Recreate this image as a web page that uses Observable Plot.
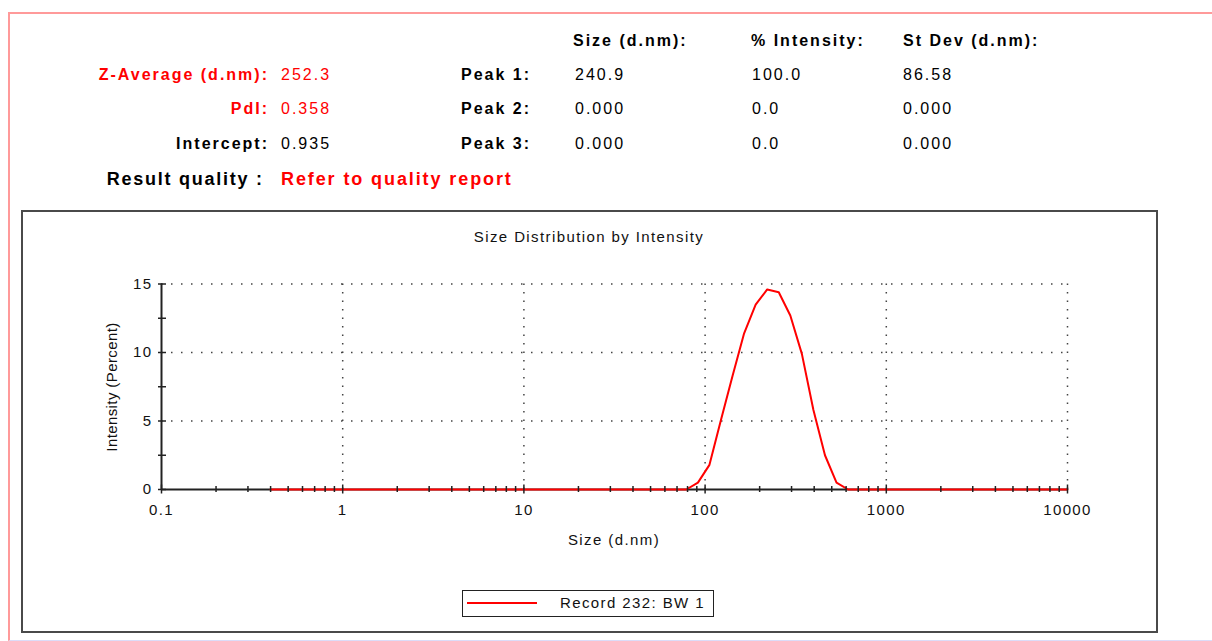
<!DOCTYPE html>
<html>
<head>
<meta charset="utf-8">
<script src="https://cdn.jsdelivr.net/npm/d3@7"></script>
<script src="https://cdn.jsdelivr.net/npm/@observablehq/plot@0.6"></script>
<style>
html, body { margin: 0; padding: 0; background: #fff; }
#page { position: relative; width: 1212px; height: 641px; overflow: hidden; font-family: "Liberation Sans", Arial, sans-serif; }
.frame { position: absolute; left: 8px; top: 12px; width: 1300px; height: 629px; border-left: 2px solid #ff9a9a; border-top: 2px solid #ff9a9a; border-bottom: 1px solid #dcdcf8; box-sizing: border-box; }
.box { position: absolute; left: 21px; top: 210px; width: 1137px; height: 423px; border: 2px solid #4a4a4a; box-sizing: border-box; }
.t { position: absolute; white-space: nowrap; line-height: 20px; height: 20px; }
#chart { position: absolute; left: 22px; top: 211px; }
.legend { position: absolute; left: 462px; top: 590px; width: 252px; height: 27px; border: 1px solid #222; box-sizing: border-box; background: #fff; }
.legend .sw { position: absolute; left: 4px; top: 11px; width: 70px; height: 2px; background: #ff0000; }
</style>
</head>
<body>
<div id="page">
  <div class="frame"></div>
  <div class="box"></div>
  <div id="chart"></div>
</div>
<script>
// ---------- Header data ----------
const summaryLabels = ["Z-Average (d.nm):", "PdI:", "Intercept:"];
const summaryValues = ["252.3", "0.358", "0.935"];
const summaryColors = ["#ff0000", "#ff0000", "#000000"];
const peakLabels = ["Peak 1:", "Peak 2:", "Peak 3:"];
const peakColumns = ["Size (d.nm):", "% Intensity:", "St Dev (d.nm):"];
const peakSize = ["240.9", "0.000", "0.000"];
const peakIntensity = ["100.0", "0.0", "0.0"];
const peakStDev = ["86.58", "0.000", "0.000"];
const qualityLabel = "Result quality :";
const qualityText = "Refer to quality report";

// ---------- Chart data ----------
const chartTitle = "Size Distribution by Intensity";
const xLabel = "Size (d.nm)";
const yLabel = "Intensity (Percent)";
const seriesName = "Record 232: BW 1";
const sizes = [0.4,0.4632,0.5365,0.6213,0.7195,0.8332,0.9649,1.117,1.294,1.499,
  1.736,2.010,2.328,2.696,3.122,3.615,4.187,4.849,5.615,6.503,
  7.531,8.721,10.10,11.70,13.54,15.69,18.17,21.04,24.36,28.21,
  32.67,37.84,43.82,50.75,58.77,68.06,78.82,91.28,105.7,122.4,
  141.8,164.2,190.1,220.2,255.0,295.3,342.0,396.1,458.7,531.2,
  615.1,712.4,825.0,955.4,1106,1281,1484,1718,1990,2305,
  2669,3091,3580,4145,4801,5560,6439,7456,8635,10000];
const intensity = [0,0,0,0,0,0,0,0,0,0,
  0,0,0,0,0,0,0,0,0,0,
  0,0,0,0,0,0,0,0,0,0,
  0,0,0,0,0,0,0,0.5,1.8,5.1,
  8.3,11.4,13.5,14.6,14.4,12.7,9.9,5.8,2.5,0.5,
  0,0,0,0,0,0,0,0,0,0,
  0,0,0,0,0,0,0,0,0,0];
const xTickValues = [0.1, 1, 10, 100, 1000, 10000];
const xTickLabels = ["0.1", "1", "10", "100", "1000", "10000"];
const yTickValues = [0, 5, 10, 15];
const yTickLabels = ["0", "5", "10", "15"];
const yMinorTicks = [2.5, 7.5, 12.5];
const xMinorMultipliers = [2, 3, 4, 5, 6, 7, 8, 9];

// ---------- Header ----------
const page = document.getElementById("page");
function addText(txt, {x, y, align = "left", size = 16, bold = false, color = "#000", ls = 2}) {
  const d = document.createElement("div");
  d.className = "t";
  d.textContent = txt;
  d.style.fontSize = size + "px";
  d.style.fontWeight = bold ? "bold" : "normal";
  d.style.color = color;
  d.style.letterSpacing = ls + "px";
  d.style.top = (y - 10) + "px";
  if (align === "left") d.style.left = x + "px";
  else if (align === "right") d.style.right = (1212 - x - ls) + "px";
  else {
    d.style.left = x + "px";
    d.style.transform = "translateX(-50%)";
  }
  page.appendChild(d);
  return d;
}
const rowY = [75, 109, 144];
const colX = [573, 751, 903];
peakColumns.forEach((c, i) => addText(c, {x: colX[i], y: 41, bold: true}));
summaryLabels.forEach((s, i) => {
  addText(s, {x: 267, y: rowY[i], align: "right", bold: true, color: summaryColors[i]});
  addText(summaryValues[i], {x: 281, y: rowY[i], color: summaryColors[i]});
  addText(peakLabels[i], {x: 529, y: rowY[i], align: "right", bold: true});
  addText(peakSize[i], {x: 575, y: rowY[i]});
  addText(peakIntensity[i], {x: 752, y: rowY[i]});
  addText(peakStDev[i], {x: 903, y: rowY[i]});
});
addText(qualityLabel, {x: 262, y: 179, align: "right", bold: true, size: 18, ls: 1.75});
addText(qualityText, {x: 281, y: 179, bold: true, size: 18, ls: 1.9, color: "#ff0000"});

// chart title and axis labels
addText(chartTitle, {x: 589, y: 237, align: "center", size: 15, ls: 1.4, color: "#111"});
addText(xLabel, {x: 614, y: 540, align: "center", size: 15, ls: 1.4, color: "#111"});
const yl = addText(yLabel, {x: 112, y: 387, align: "center", size: 15, ls: 0.4, color: "#111"});
yl.style.transform = "translateX(-50%) rotate(-90deg)";
yl.style.transformOrigin = "50% 50%";

// legend
const lg = document.createElement("div");
lg.className = "legend";
lg.innerHTML = '<div class="sw"></div>';
page.appendChild(lg);
addText(seriesName, {x: 560, y: 603, size: 15, ls: 1.4, color: "#111"});

// ---------- Chart ----------
const data = sizes.map((s, i) => ({size: s, value: intensity[i]}));
const xMinor = [];
xTickValues.slice(0, -1).forEach(d => xMinorMultipliers.forEach(m => xMinor.push(d * m)));
const yAllTicks = yTickValues.concat(yMinorTicks);

const W = 1134, H = 421;
const chart = Plot.plot({
  width: W,
  height: H,
  marginLeft: 139,
  marginRight: 89,
  marginTop: 72.5,
  marginBottom: 143,
  style: {fontFamily: "Liberation Sans, Arial, sans-serif", fontSize: "15px", color: "#111", background: "transparent", letterSpacing: "1.4px", overflow: "visible"},
  x: {type: "log", domain: [0.1, 10000]},
  y: {domain: [0, 15]},
  marks: [
    Plot.ruleY(yTickValues.slice(1), {stroke: "#444", strokeWidth: 1.5, strokeDasharray: "1.5,8.5"}),
    Plot.ruleX(xTickValues.slice(1), {y1: 0, y2: 15, stroke: "#444", strokeWidth: 1.5, strokeDasharray: "1.5,7"}),
    Plot.ruleY([0], {stroke: "#222", strokeWidth: 2}),
    Plot.ruleX([0.1], {y1: 0, y2: 15, stroke: "#222", strokeWidth: 2}),
    Plot.line(data, {x: "size", y: "value", stroke: "#ff0000", strokeWidth: 2, curve: "linear"}),
    Plot.axisX({ticks: xMinor, tickSize: 6, dy: -3, tickFormat: () => "", label: null, strokeWidth: 1.5, stroke: "#222"}),
    Plot.axisX({ticks: xTickValues, tickSize: 9, dy: -4.5, tickFormat: () => "", label: null, strokeWidth: 1.5, stroke: "#222"}),
    Plot.axisX({ticks: xTickValues, tickSize: 0, tickPadding: 14.5, tickFormat: (d) => xTickLabels[xTickValues.indexOf(d)], label: null}),
    Plot.axisY({ticks: yAllTicks, tickSize: 8, dx: 5, tickFormat: () => "", label: null, strokeWidth: 1.5, stroke: "#222"}),
    Plot.axisY({ticks: yTickValues, tickSize: 0, tickPadding: 9, tickFormat: (d) => yTickLabels[yTickValues.indexOf(d)], label: null})
  ]
});
document.getElementById("chart").appendChild(chart);
</script>
</body>
</html>
